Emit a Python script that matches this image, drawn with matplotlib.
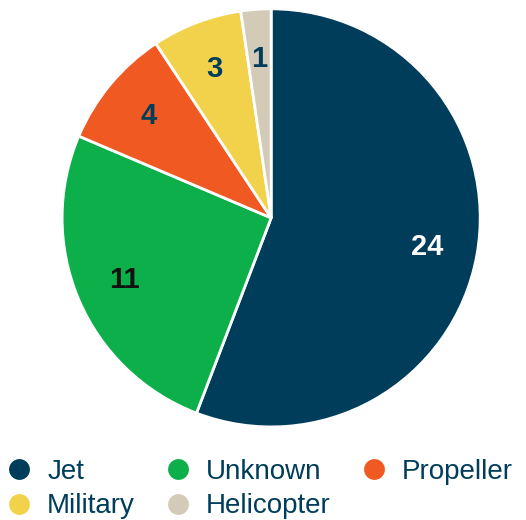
import matplotlib.pyplot as plt
from matplotlib.lines import Line2D

plt.rcParams['font.family'] = ['Liberation Sans', 'DejaVu Sans']

categories = ['Jet', 'Unknown', 'Propeller', 'Military', 'Helicopter']
counts = [24, 11, 4, 3, 1]
colors = ['#003d5b', '#0daf4a', '#f05a22', '#f2d24b', '#d3cbb8']
label_colors = ['#ffffff', '#111111', '#003d5b', '#003d5b', '#003d5b']
text_navy = '#003d5b'

total = sum(counts)

fig = plt.figure(figsize=(5.26, 5.2), dpi=100)
# pie centre at about (271, 218) px, radius ~209 px
ax = fig.add_axes([0.118, 0.179, 0.795, 0.804])
wedges, texts, autotexts = ax.pie(
    counts, colors=colors, startangle=90, counterclock=False,
    autopct=lambda p: f'{round(p * total / 100):d}', pctdistance=0.76,
    wedgeprops=dict(edgecolor='white', linewidth=2),
)
for t, c in zip(autotexts, label_colors):
    t.set_color(c)
    t.set_fontsize(21)
    t.set_fontweight('bold')
ax.set_xlim(-1, 1)
ax.set_ylim(-1, 1)
ax.set_aspect('equal')
ax.axis('off')

handles = [Line2D([], [], marker='o', linestyle='none', markersize=16,
                  markerfacecolor=c, markeredgecolor='white', markeredgewidth=1)
           for c in colors]
# legend fills column by column; reorder so rows read Jet/Unknown/Propeller, Military/Helicopter
order = [0, 3, 1, 4, 2]
leg = fig.legend([handles[i] for i in order], [categories[i] for i in order],
                 ncol=3, loc='upper left',
                 bbox_to_anchor=(0.0, 0.128), frameon=False, fontsize=20,
                 handlelength=1.0, handletextpad=0.5, columnspacing=1.05,
                 labelspacing=0.3, borderaxespad=0, borderpad=0.2)
for t in leg.get_texts():
    t.set_color(text_navy)

fig.savefig('out.png', dpi=100)
